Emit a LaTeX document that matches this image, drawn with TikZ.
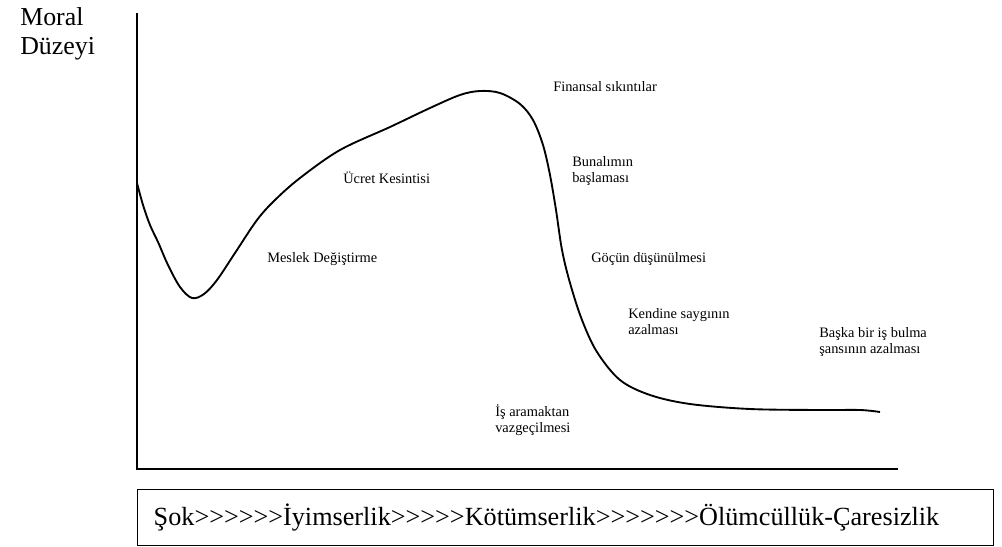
\documentclass[tikz,border=0pt]{standalone}
\usepackage{fontspec}
\setmainfont{Liberation Serif}[Ligatures = TeXOff]
\usetikzlibrary{positioning}

\begin{document}
\begin{tikzpicture}[x = 0.75pt, y = -0.75pt,
		stage/.style = {anchor = base west, inner sep = 0pt, align = left, font = \fontsize{10.8}{11.5}\selectfont},
		large/.style = {inner sep = 0pt, align = left, font = \fontsize{19.4}{21}\selectfont}]
	\useasboundingbox (0, 0) rectangle (1002, 546);
	% axes
	\draw [black, line width = 1.4pt] (137, 13) -- (137, 469) -- (898, 469);
	\node (moral) at (20, 54) [large, anchor = base west] {Moral\\Düzeyi};
	% morale curve
	\draw [black, line width = 1.4pt] plot [smooth, tension = 0.55] coordinates {
		(137, 183) (143, 205) (150, 225) (158, 242) (168, 265) (180, 287) (192, 298)
		(204, 294) (217, 280) (235, 253) (257, 220) (275, 200) (300, 178) (340, 150)
		(390, 127) (430, 108) (460, 95) (480, 91) (500, 93) (520, 104) (533, 120)
		(543, 145) (550, 175) (556, 210) (562, 250) (570, 283) (582, 320) (597, 352)
		(620, 380) (650, 395) (690, 404) (750, 409) (820, 410) (860, 410) (880, 412)};
	% stages along the curve (base = last line)
	\node (meslek) at (267, 262) [stage] {Meslek Değiştirme};
	\node (ucret) at (343, 183) [stage] {Ücret Kesintisi};
	\node (finans) at (553, 91) [stage] {Finansal sıkıntılar};
	\node (bunalim) at (572, 182) [stage] {Bunalımın\\başlaması};
	\node (gocun) at (591, 262) [stage] {Göçün düşünülmesi};
	\node (saygi) at (628, 334) [stage] {Kendine saygının\\azalması};
	\node (sans) at (819, 353) [stage] {Başka bir iş bulma\\şansının azalması};
	\node (vazgec) at (495, 432) [stage] {İş aramaktan\\vazgeçilmesi};
	% phases
	\node (phases) at (137, 489) [draw, black, line width = 1.1pt, anchor = north west,
		minimum width = 642pt, minimum height = 42pt, text width = 618pt, inner xsep = 12pt,
		align = left, font = \fontsize{19.65}{21}\selectfont]
		{Şok>>>>>>İyimserlik>>>>>Kötümserlik>>>>>>>Ölümcüllük-Çaresizlik};
\end{tikzpicture}
\end{document}
